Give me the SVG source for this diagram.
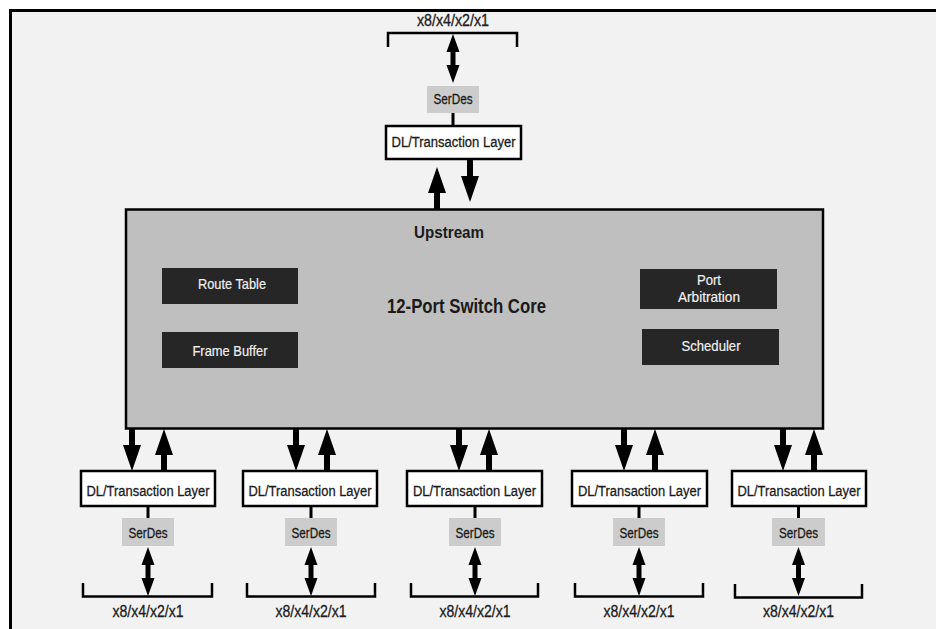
<svg xmlns="http://www.w3.org/2000/svg" width="936" height="629" viewBox="0 0 936 629">
<style>
text{font-family:"Liberation Sans",Arial,sans-serif;fill:#1a1a1a;text-anchor:middle;stroke:#1a1a1a;stroke-width:0.3}
.dl{fill:#ffffff;stroke:#000;stroke-width:2.5}
.sd{fill:#cccccc}
.blk{fill:#262626}
.wt{fill:#f0f0f0;stroke:#f0f0f0;stroke-width:0.2;font-size:15px}
.t14{font-size:15.5px}
.lbl{font-size:16px;fill:#222}
.hd{font-weight:bold;stroke-width:0}
.ln{stroke:#000;stroke-width:3;fill:none}
.br{stroke:#000;stroke-width:2.5;fill:none}
.ar{fill:#000}
</style>
<defs>
<path id="down" d="M-3,0 H3 V16 H9 L0,42 L-9,16 H-3 Z"/>
<path id="up" d="M-3,0 H3 V-16 H9 L0,-42 L-9,-16 H-3 Z"/>
<path id="dbl" d="M0,0 L6.5,18 H2.5 V31 H6.5 L0,49 L-6.5,31 H-2.5 V18 H-6.5 Z"/>
</defs>
<rect x="0" y="0" width="936" height="629" fill="#ffffff"/>
<rect x="10.5" y="10.5" width="930" height="625" fill="#f2f2f2" stroke="#000" stroke-width="3"/>

<g id="core">
<rect x="126" y="209.5" width="697" height="219" fill="#bfbfbf" stroke="#000" stroke-width="2.5"/>
<text class="hd" x="449" y="238" font-size="17" textLength="70" lengthAdjust="spacingAndGlyphs">Upstream</text>
<text class="hd" x="466.5" y="313" font-size="20" textLength="159" lengthAdjust="spacingAndGlyphs">12-Port Switch Core</text>
</g>
<g id="route-table">
<rect class="blk" x="162" y="268" width="136" height="36"/>
<text class="wt" x="232" y="289" textLength="68" lengthAdjust="spacingAndGlyphs">Route Table</text>
</g>
<g id="frame-buffer">
<rect class="blk" x="162" y="332" width="136" height="36"/>
<text class="wt" x="230" y="356" textLength="75" lengthAdjust="spacingAndGlyphs">Frame Buffer</text>
</g>
<g id="port-arbitration">
<rect class="blk" x="640" y="269" width="137" height="40"/>
<text class="wt" x="709" y="285" textLength="24" lengthAdjust="spacingAndGlyphs">Port</text>
<text class="wt" x="709" y="302" textLength="62" lengthAdjust="spacingAndGlyphs">Arbitration</text>
</g>
<g id="scheduler">
<rect class="blk" x="642" y="329" width="137" height="36"/>
<text class="wt" x="711" y="351" textLength="59" lengthAdjust="spacingAndGlyphs">Scheduler</text>
</g>

<g id="top-port">
<text class="lbl" x="453" y="26" textLength="72" lengthAdjust="spacingAndGlyphs">x8/x4/x2/x1</text>
<rect class="sd" x="427" y="86" width="52" height="27"/>
<text class="t14" x="453" y="104" textLength="39" lengthAdjust="spacingAndGlyphs">SerDes</text>
<rect class="dl" x="386" y="126" width="135" height="33"/>
<text class="t14" x="453.5" y="147" textLength="124" lengthAdjust="spacingAndGlyphs">DL/Transaction Layer</text>
</g>

<g id="port-1">
<rect class="dl" x="81" y="471" width="134" height="35"/>
<text class="t14" x="148" y="496" textLength="123" lengthAdjust="spacingAndGlyphs">DL/Transaction Layer</text>
<rect class="sd" x="122" y="518" width="52" height="28"/>
<text class="t14" x="148" y="538" textLength="39" lengthAdjust="spacingAndGlyphs">SerDes</text>
<text class="lbl" x="148" y="617" textLength="71" lengthAdjust="spacingAndGlyphs">x8/x4/x2/x1</text>
</g>
<g id="port-2">
<rect class="dl" x="243" y="471" width="134" height="35"/>
<text class="t14" x="310" y="496" textLength="123" lengthAdjust="spacingAndGlyphs">DL/Transaction Layer</text>
<rect class="sd" x="285" y="518" width="52" height="28"/>
<text class="t14" x="311" y="538" textLength="39" lengthAdjust="spacingAndGlyphs">SerDes</text>
<text class="lbl" x="311" y="617" textLength="71" lengthAdjust="spacingAndGlyphs">x8/x4/x2/x1</text>
</g>
<g id="port-3">
<rect class="dl" x="407" y="471" width="135" height="35"/>
<text class="t14" x="474.5" y="496" textLength="123" lengthAdjust="spacingAndGlyphs">DL/Transaction Layer</text>
<rect class="sd" x="449" y="518" width="52" height="28"/>
<text class="t14" x="475" y="538" textLength="39" lengthAdjust="spacingAndGlyphs">SerDes</text>
<text class="lbl" x="475" y="617" textLength="71" lengthAdjust="spacingAndGlyphs">x8/x4/x2/x1</text>
</g>
<g id="port-4">
<rect class="dl" x="572" y="471" width="135" height="35"/>
<text class="t14" x="639.5" y="496" textLength="123" lengthAdjust="spacingAndGlyphs">DL/Transaction Layer</text>
<rect class="sd" x="613" y="518" width="52" height="28"/>
<text class="t14" x="639" y="538" textLength="39" lengthAdjust="spacingAndGlyphs">SerDes</text>
<text class="lbl" x="639" y="617" textLength="71" lengthAdjust="spacingAndGlyphs">x8/x4/x2/x1</text>
</g>
<g id="port-5">
<rect class="dl" x="732" y="471" width="134" height="35"/>
<text class="t14" x="799" y="496" textLength="123" lengthAdjust="spacingAndGlyphs">DL/Transaction Layer</text>
<rect class="sd" x="772" y="518" width="53" height="28"/>
<text class="t14" x="798.5" y="538" textLength="39" lengthAdjust="spacingAndGlyphs">SerDes</text>
<text class="lbl" x="798.5" y="617" textLength="71" lengthAdjust="spacingAndGlyphs">x8/x4/x2/x1</text>
</g>

<g id="connectors">
<path class="br" d="M388,47 V33 H517 V47"/>
<use href="#dbl" class="ar" x="453" y="34"/>
<line class="ln" x1="453" y1="113" x2="453" y2="126"/>
<use href="#up" class="ar" x="437" y="209"/>
<use href="#down" class="ar" x="470" y="160"/>

<use href="#down" class="ar" x="132" y="429"/>
<use href="#up" class="ar" x="164" y="471"/>
<line class="ln" x1="148" y1="506" x2="148" y2="518"/>
<use href="#dbl" class="ar" x="148" y="547"/>
<path class="br" d="M83,583 V596.5 H212 V583"/>

<use href="#down" class="ar" x="296" y="429"/>
<use href="#up" class="ar" x="327" y="471"/>
<line class="ln" x1="311" y1="506" x2="311" y2="518"/>
<use href="#dbl" class="ar" x="311" y="547"/>
<path class="br" d="M247,583 V596.5 H375 V583"/>

<use href="#down" class="ar" x="459" y="429"/>
<use href="#up" class="ar" x="489" y="471"/>
<line class="ln" x1="475" y1="506" x2="475" y2="518"/>
<use href="#dbl" class="ar" x="475" y="547"/>
<path class="br" d="M411,583 V596.5 H538 V583"/>

<use href="#down" class="ar" x="624" y="429"/>
<use href="#up" class="ar" x="655" y="471"/>
<line class="ln" x1="639" y1="506" x2="639" y2="518"/>
<use href="#dbl" class="ar" x="639" y="547"/>
<path class="br" d="M575,583 V596.5 H703 V583"/>

<use href="#down" class="ar" x="783" y="429"/>
<use href="#up" class="ar" x="814" y="471"/>
<line class="ln" x1="798.5" y1="506" x2="798.5" y2="518"/>
<use href="#dbl" class="ar" x="798.5" y="547"/>
<path class="br" d="M735,584 V597.5 H862 V584"/>
</g>
</svg>
